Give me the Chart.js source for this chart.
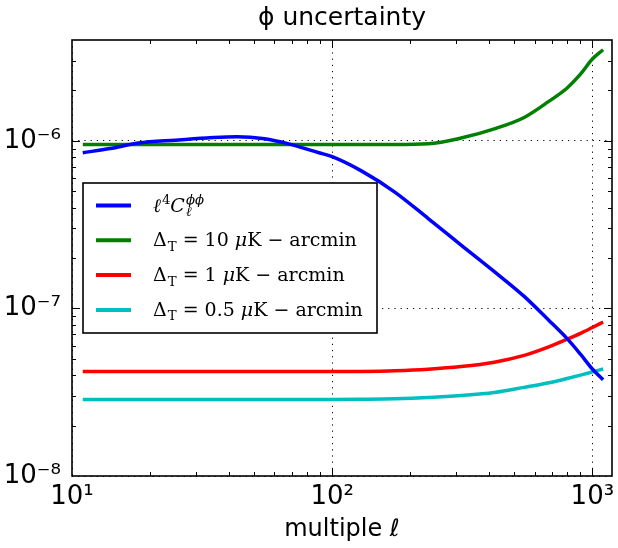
<!DOCTYPE html>
<html>
<head>
<meta charset="utf-8">
<script src="https://cdn.jsdelivr.net/npm/chart.js@4.4.0/dist/chart.umd.min.js"></script>
<style>
  html, body { margin: 0; padding: 0; background: #fff; }
</style>
</head>
<body>
<canvas id="phiChart" width="618" height="548"></canvas>
<script>
// multipoles and curves
var ells = [11, 14, 18, 25, 33, 43, 55, 68, 89, 100, 130, 174, 234, 313, 420, 547, 680, 800, 900, 1000, 1100];
var clPhi = [8.5e-7, 9.0e-7, 9.7e-7, 1.01e-6, 1.04e-6, 1.06e-6, 1.03e-6, 9.6e-7, 8.5e-7, 8.05e-7, 6.6e-7,
  4.95e-7, 3.44e-7, 2.39e-7, 1.66e-7, 1.18e-7, 8.5e-8, 6.6e-8, 5.33e-8, 4.35e-8, 3.75e-8];
var noise10 = [9.5e-7, 9.5e-7, 9.5e-7, 9.5e-7, 9.5e-7, 9.5e-7, 9.5e-7, 9.5e-7, 9.5e-7, 9.5e-7, 9.5e-7,
  9.5e-7, 9.6e-7, 1.04e-6, 1.18e-6, 1.38e-6, 1.72e-6, 2.07e-6, 2.5e-6, 3.08e-6, 3.5e-6];
var noise1 = [4.2e-8, 4.2e-8, 4.2e-8, 4.2e-8, 4.2e-8, 4.2e-8, 4.2e-8, 4.2e-8, 4.2e-8, 4.2e-8, 4.21e-8,
  4.25e-8, 4.34e-8, 4.5e-8, 4.78e-8, 5.25e-8, 5.9e-8, 6.55e-8, 7.1e-8, 7.7e-8, 8.3e-8];
var noise05 = [2.86e-8, 2.86e-8, 2.86e-8, 2.86e-8, 2.86e-8, 2.86e-8, 2.86e-8, 2.86e-8, 2.86e-8, 2.86e-8, 2.87e-8,
  2.89e-8, 2.94e-8, 3.02e-8, 3.15e-8, 3.38e-8, 3.6e-8, 3.82e-8, 4.0e-8, 4.18e-8, 4.35e-8];
var seriesLabels = ["ℓ^4C_ℓ^{ϕϕ}", "Δ_T = 10 μK − arcmin", "Δ_T = 1 μK − arcmin", "Δ_T = 0.5 μK − arcmin"];
var seriesColors = ["#0000ff", "#008000", "#ff0000", "#00bfbf"];
var xRange = [10, 1190];
var yRange = [1e-8, 4e-6];

var SUP = { "-": "⁻", "0": "⁰", "1": "¹", "2": "²", "3": "³", "4": "⁴", "5": "⁵", "6": "⁶", "7": "⁷", "8": "⁸", "9": "⁹" };

function isDecade(v) {
  var l = Math.log10(v);
  return Math.abs(l - Math.round(l)) < 1e-6;
}

function isWholeStep(v) {
  var m = v / Math.pow(10, Math.floor(Math.log10(v) + 1e-9));
  return Math.abs(m - Math.round(m)) < 1e-6;
}

function decadeLabel(v) {
  if (!isDecade(v)) return "";
  var p = String(Math.round(Math.log10(v)));
  return "10" + p.split("").map(function (c) { return SUP[c]; }).join("");
}

function gridColor(c) {
  if (c.tick && isDecade(c.tick.value)) return "#000";
  return "rgba(0,0,0,0)";
}

// small mathtext-ish renderer for the legend labels
var ITALIC = "ℓCμϕ";
function drawRun(ctx, str, x, y, size) {
  for (var i = 0; i < str.length; i++) {
    var ch = str[i];
    ctx.font = (ITALIC.indexOf(ch) >= 0 ? "italic " : "") + size + 'px "DejaVu Serif"';
    ctx.fillText(ch, x, y);
    x += ctx.measureText(ch).width;
  }
  return x;
}

function drawMath(ctx, text, x, y, size) {
  var cx = x, scriptStart = x, lastScript = null, i = 0;
  while (i < text.length) {
    var ch = text[i];
    if (ch === "_" || ch === "^") {
      var grp;
      i++;
      if (text[i] === "{") {
        var j = text.indexOf("}", i);
        grp = text.slice(i + 1, j);
        i = j + 1;
      } else {
        grp = text[i];
        i++;
      }
      var stacked = lastScript && lastScript !== ch;
      if (!stacked) scriptStart = cx + 1;
      var dy = ch === "_" ? size * 0.24 : -size * 0.42;
      var end = drawRun(ctx, grp, scriptStart, y + dy, size * 0.7);
      cx = stacked ? Math.max(cx, end) : end;
      lastScript = ch;
      continue;
    }
    lastScript = null;
    cx = drawRun(ctx, ch, cx, y, size);
    i++;
  }
}

var frameTicks = {
  id: "frameTicks",
  afterDatasetsDraw: function (chart) {
    var ctx = chart.ctx, a = chart.chartArea;
    var xs = chart.scales.x, ys = chart.scales.y;
    ctx.save();
    ctx.strokeStyle = "#000";
    ctx.lineWidth = 1;
    ctx.beginPath();
    xs.ticks.forEach(function (t) {
      if (!isWholeStep(t.value)) return;
      var px = Math.round(xs.getPixelForValue(t.value)) + 0.5;
      if (px <= a.left + 1 || px >= a.right - 1) return;
      var len = isDecade(t.value) ? 8 : 4;
      ctx.moveTo(px, a.bottom); ctx.lineTo(px, a.bottom - len);
      ctx.moveTo(px, a.top); ctx.lineTo(px, a.top + len);
    });
    ys.ticks.forEach(function (t) {
      if (!isWholeStep(t.value)) return;
      var py = Math.round(ys.getPixelForValue(t.value)) + 0.5;
      if (py <= a.top + 1 || py >= a.bottom - 1) return;
      var len = isDecade(t.value) ? 8 : 4;
      ctx.moveTo(a.left, py); ctx.lineTo(a.left + len, py);
      ctx.moveTo(a.right, py); ctx.lineTo(a.right - len, py);
    });
    ctx.stroke();
    ctx.lineWidth = 1.6;
    ctx.strokeRect(a.left, a.top, a.right - a.left, a.bottom - a.top);
    ctx.restore();
  }
};

var insetLegend = {
  id: "insetLegend",
  afterDraw: function (chart) {
    var ctx = chart.ctx, a = chart.chartArea;
    var x = a.left + 11, y = a.top + 143, w = 294, h = 150;
    ctx.save();
    ctx.fillStyle = "#fff";
    ctx.fillRect(x, y, w, h);
    ctx.lineWidth = 1.6;
    ctx.strokeStyle = "#000";
    ctx.strokeRect(x, y, w, h);
    ctx.fillStyle = "#000";
    ctx.textBaseline = "alphabetic";
    chart.data.datasets.forEach(function (ds, i) {
      var ry = y + 22.5 + i * 34.8;
      ctx.strokeStyle = ds.borderColor;
      ctx.lineWidth = 4;
      ctx.beginPath();
      ctx.moveTo(x + 13, ry);
      ctx.lineTo(x + 48, ry);
      ctx.stroke();
      drawMath(ctx, ds.label, x + 70, ry + 6, 19);
    });
    ctx.restore();
  }
};

var datasets = [clPhi, noise10, noise1, noise05].map(function (vals, i) {
  return {
    label: seriesLabels[i],
    data: vals.map(function (v, k) { return { x: ells[k], y: v }; }),
    borderColor: seriesColors[i],
    backgroundColor: seriesColors[i],
    borderWidth: 3.5,
    pointRadius: 0,
    cubicInterpolationMode: "monotone",
    fill: false
  };
});

var ctx = document.getElementById("phiChart").getContext("2d");
var phiChart = new Chart(ctx, {
  type: "line",
  data: { datasets: datasets },
  options: {
    responsive: false,
    animation: false,
    layout: { padding: { top: 0, right: 3, bottom: 0, left: 0 } },
    plugins: {
      legend: { display: false },
      tooltip: { enabled: false },
      title: {
        display: true,
        fullSize: false,
        text: "ϕ uncertainty",
        color: "#000",
        font: { family: "DejaVu Sans", size: 25, weight: "normal" },
        padding: { top: 3, bottom: 7 }
      }
    },
    scales: {
      x: {
        type: "logarithmic",
        min: xRange[0],
        max: xRange[1],
        afterFit: function (s) { s.height = 72; },
        border: { display: false, dash: [1.2, 5] },
        grid: { drawTicks: false, lineWidth: 1, color: gridColor },
        ticks: {
          autoSkip: false, maxRotation: 0, padding: 6, color: "#000",
          font: { family: "DejaVu Sans", size: 26 },
          callback: decadeLabel
        },
        title: {
          display: true, text: "multiple ℓ", color: "#000",
          font: { family: "DejaVu Sans", size: 24 },
          padding: { top: 0, bottom: 4 }
        }
      },
      y: {
        type: "logarithmic",
        min: yRange[0],
        max: yRange[1],
        afterFit: function (s) { s.width = 72; },
        border: { display: false, dash: [1.2, 5] },
        grid: { drawTicks: false, lineWidth: 1, color: gridColor },
        ticks: {
          autoSkip: false, padding: 11, color: "#000",
          font: { family: "DejaVu Sans", size: 26 },
          callback: decadeLabel
        }
      }
    }
  },
  plugins: [frameTicks, insetLegend]
});
</script>
</body>
</html>
